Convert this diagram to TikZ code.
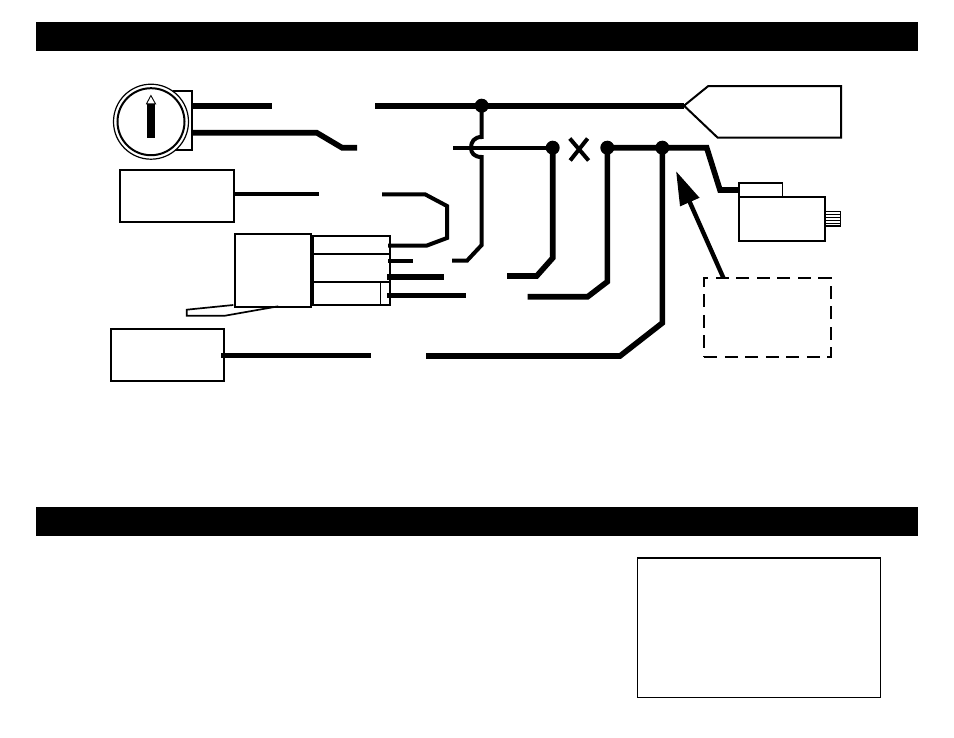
\documentclass[tikz,border=0pt]{standalone}
\usepackage{xcolor}
\usetikzlibrary{arrows.meta}
\usetikzlibrary{calc}
\tikzstyle{bar}=[fill=black,inner sep=0pt,outer sep=0pt,anchor=north west,minimum width=882pt,minimum height=29pt]
\tikzstyle{part}=[draw,line width=2pt,inner sep=0pt,outer sep=0pt,anchor=north west]
\tikzstyle{thin part}=[part,line width=1.1pt]
\tikzstyle{wire}=[line width=5.6pt]
\tikzstyle{lead}=[line width=4pt]
\tikzstyle{joint}=[circle,fill=black,inner sep=0pt,outer sep=0pt,minimum size=14pt]
\tikzstyle{pointer}=[line width=4.4pt,-{Triangle[length=34pt,width=20pt]}]
\begin{document}
\begin{tikzpicture}[x=1pt,y=-1pt]
	\useasboundingbox (0,0) rectangle (954,737);
	\node[bar] (title1) at (36,22) {};
	\node[bar] (title2) at (36,507) {};
	\node[thin part,minimum width=243pt,minimum height=139.5pt] (note) at (637.5,558) {};
	%
	% ignition lock
	\node[thin part,minimum width=18pt,minimum height=59pt] (lockback) at (174,91) {};
	\node[circle,draw,fill=white,line width=1.2pt,inner sep=0pt,minimum size=75pt] (lock) at (151,121.7) {};
	\node[circle,draw,line width=2pt,inner sep=0pt,minimum size=67pt] (lockin) at (151,121.7) {};
	\node[fill=black,inner sep=0pt,minimum width=8.6pt,minimum height=34pt] (key) at (151,121) {};
	\draw[line width=.9pt] (key.north west) -- (150.9,95.5) -- (key.north east) -- cycle;
	%
	% boxes
	\node[part,minimum width=113.5pt,minimum height=52pt] (sensor) at (120,170) {};
	\node[part,minimum width=113.5pt,minimum height=52pt] (ground) at (110.7,329) {};
	\node[part,minimum width=76.5pt,minimum height=72.7pt] (relay) at (234.7,234) {};
	\node[part,minimum width=76.7pt,minimum height=69.3pt] (socket) at (313.3,235.7) {};
	\draw[line width=1.8pt] (socket.west |- 0,254.3) -- (socket.east |- 0,254.3);
	\draw[line width=1.8pt] (socket.west |- 0,281.7) -- (socket.east |- 0,281.7);
	\draw[line width=1.4pt] (380.7,281.7) -- (380.7,0 |- socket.south);
	\draw[line width=1.7pt] (233.3,305) -- (186.7,309.7) -- (186.7,315.7) -- (225,315.7) -- (278.3,306.3);
	%
	% horn and motor
	\coordinate (apex) at (684,105.7);
	\draw[line width=2pt] (apex) -- (708.3,86) -- (841,86) -- (841,137.7) -- (717.7,137.7) -- cycle;
	\node[part,line width=1.6pt,minimum width=43.3pt,minimum height=14.6pt] (cap) at (739,182.7) {};
	\node[part,minimum width=86pt,minimum height=43.4pt] (motor) at (739,197.3) {};
	\node[part,line width=1.3pt,minimum width=15pt,minimum height=14.3pt] (shaft) at (825.3,211.7) {};
	\foreach \i in {1,...,4}
		\draw[line width=.6pt] ($(shaft.north west)+(0,{\i*2.85})$) -- ($(shaft.north east)+(0,{\i*2.85})$);
	\node[part,dash pattern=on 13pt off 7.5pt,line width=1.9pt,minimum width=126.4pt,minimum height=79pt] (option) at (704.3,277.7) {};
	%
	% joints
	\node[joint] (j1) at (481.7,105.7) {};
	\node[joint] (j2) at (552.7,147.7) {};
	\node[joint] (j3) at (607.3,147.7) {};
	\node[joint] (j4) at (662.3,147.7) {};
	%
	% wires
	\coordinate (a1) at (192,105.7);
	\coordinate (a2) at (272,105.7);
	\coordinate (b1) at (192,132.7);
	\coordinate (b2) at (316.7,132.7);
	\coordinate (b3) at (342,147.7);
	\coordinate (b4) at (357,147.7);
	\coordinate (c1) at (375,105.7);
	\coordinate (d1) at (453,147.7);
	\coordinate (e1) at (319,194.3);
	\coordinate (f1) at (382,194.3);
	\coordinate (f2) at (425,194.3);
	\coordinate (f3) at (447,206);
	\coordinate (f4) at (447,238);
	\coordinate (f5) at (427,245.5);
	\coordinate (f6) at (388,245.5);
	\coordinate (g1) at (388,260.7);
	\coordinate (g2) at (413,260.7);
	\coordinate (h1) at (452,260.7);
	\coordinate (h2) at (467,260.7);
	\coordinate (h3) at (481.7,245);
	\coordinate (h4) at (481.7,157);
	\coordinate (h5) at (481.7,137);
	\coordinate (k1) at (387,277);
	\coordinate (k2) at (444,277);
	\coordinate (l1) at (387,295.7);
	\coordinate (l2) at (466,295.7);
	\coordinate (m1) at (507,276);
	\coordinate (m2) at (536.7,276);
	\coordinate (m3) at (552.7,258);
	\coordinate (n1) at (527.7,296.7);
	\coordinate (n2) at (587.7,296.7);
	\coordinate (n3) at (607.3,281.7);
	\coordinate (o1) at (221,355.3);
	\coordinate (o2) at (371,355.3);
	\coordinate (p1) at (426,356);
	\coordinate (p2) at (620,356);
	\coordinate (p3) at (662.3,323);
	\coordinate (q1) at (706.7,147.7);
	\coordinate (q2) at (720,190);
	%
	\draw[wire] (a1) -- (a2);
	\draw[wire] (b1) -- (b2) -- (b3) -- (b4);
	\draw[wire] (c1) -- (j1.center) -- (apex);
	\draw[lead] (sensor.east |- e1) -- (e1);
	\draw[lead] (f1) -- (f2) -- (f3) -- (f4) -- (f5) -- (f6);
	\draw[lead] (g1) -- (g2);
	\draw[lead] (h1) -- (h2) -- (h3) -- (h4) .. controls (474,157) and (471,153) .. (471,147.7) .. controls (471,142) and (474,137) .. (h5) -- (j1.center);
	\draw[lead] (d1) -- (j2.center);
	\draw[wire] (k1) -- (k2);
	\draw[wire,line width=4.6pt] (l1) -- (l2);
	\draw[wire] (m1) -- (m2) -- (m3) -- (j2.center);
	\draw[wire] (n1) -- (n2) -- (n3) -- (j3.center);
	\draw[wire,line width=5pt] (o1) -- (o2);
	\draw[wire] (p1) -- (p2) -- (p3) -- (j4.center);
	\draw[wire] (j3.center) -- (j4.center) -- (q1) -- (q2) -- (cap.west |- q2);
	%
	% cut mark
	\draw[line width=4pt] (569.8,138.5) -- (588.6,160.5);
	\draw[line width=4pt] (587.6,138.5) -- (570.2,160.5);
	%
	\draw[pointer] (723.3,0 |- option.north) -- (676,171);
\end{tikzpicture}
\end{document}
